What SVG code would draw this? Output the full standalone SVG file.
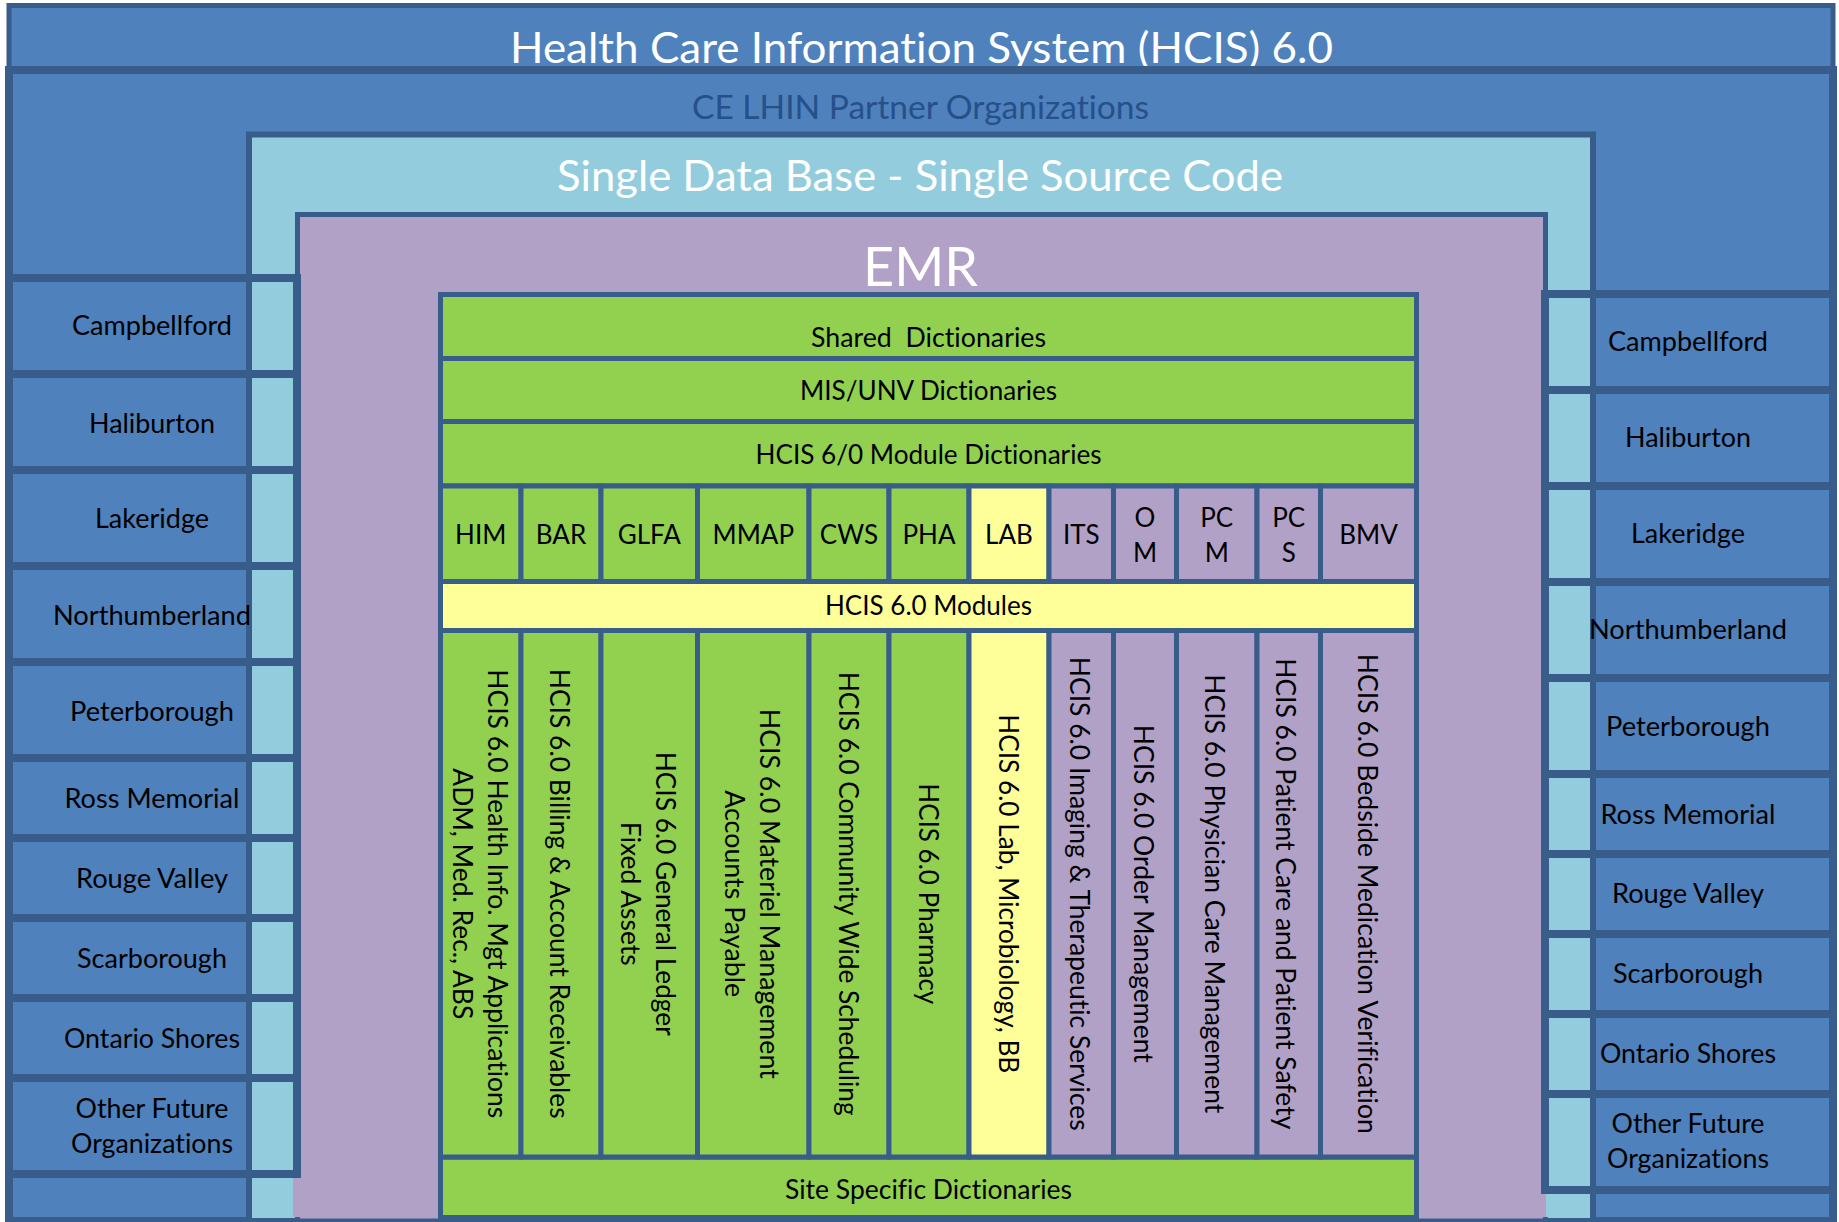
<svg xmlns="http://www.w3.org/2000/svg" width="1839" height="1222" viewBox="0 0 1839 1222">
<style>
.bd{stroke:#385D8A;stroke-width:5}
.bd6{stroke:#385D8A;stroke-width:6}
.bd8{stroke:#385D8A;stroke-width:8}
.blue{fill:#4F81BD}
.lb{fill:#93CDDD}
.pu{fill:#B2A1C7}
.gr{fill:#92D050}
.ye{fill:#FFFF99}
.nf{fill:none}
text{font-family:Lato,"Noto Sans","Liberation Sans",sans-serif;font-variant-ligatures:none;font-feature-settings:"liga" 0,"dlig" 0}
.t{font-size:26px;fill:#000;text-anchor:middle}
.w{fill:#fff;text-anchor:middle}
</style>
<rect x="0" y="0" width="1839" height="1222" fill="#fff"/>

<g id="title-box">
<rect x="9" y="5.5" width="1824" height="70" class="blue bd"/>
<text x="921.5" y="63" class="w" font-size="43" textLength="823" lengthAdjust="spacingAndGlyphs">Health Care Information System (HCIS) 6.0</text>
</g>

<g id="ce-lhin">
<rect x="9" y="70" width="1824" height="1151" class="blue bd8"/>
<text x="920.5" y="119" font-size="33" fill="#26508A" text-anchor="middle" textLength="457" lengthAdjust="spacingAndGlyphs">CE LHIN Partner Organizations</text>
</g>

<g id="single-db">
<rect x="249" y="134.5" width="1344" height="1086.5" class="lb bd6"/>
<text x="920" y="191" class="w" font-size="43" textLength="726" lengthAdjust="spacingAndGlyphs">Single Data Base - Single Source Code</text>
</g>

<g id="emr">
<rect x="297.5" y="214.5" width="1248" height="1006.5" class="pu bd"/>
<text x="920.5" y="286" class="w" font-size="55" textLength="115" lengthAdjust="spacingAndGlyphs">EMR</text>
</g>

<g id="hcis-core">
<rect x="440.5" y="294.5" width="976" height="923" class="gr bd"/>
</g>

<g id="shared-dictionaries">
<rect x="440.5" y="294.5" width="976" height="64" class="gr bd"/>
<text x="928.5" y="347" class="t" xml:space="preserve" textLength="235" lengthAdjust="spacingAndGlyphs">Shared  Dictionaries</text>
</g>
<g id="mis-unv-dictionaries">
<rect x="440.5" y="358.5" width="976" height="63" class="gr bd"/>
<text x="928.5" y="400" class="t" textLength="257" lengthAdjust="spacingAndGlyphs">MIS/UNV Dictionaries</text>
</g>
<g id="module-dictionaries">
<rect x="440.5" y="421.5" width="976" height="64.5" class="gr bd"/>
<text x="928.5" y="464" class="t" textLength="346" lengthAdjust="spacingAndGlyphs">HCIS 6/0 Module Dictionaries</text>
</g>
<g id="hcis-modules">
<rect x="440.5" y="581.5" width="976" height="49" class="ye bd"/>
<text x="928.5" y="615" class="t" textLength="207" lengthAdjust="spacingAndGlyphs">HCIS 6.0 Modules</text>
</g>
<g id="site-specific-dictionaries">
<rect x="440.5" y="1157" width="976" height="60.5" class="gr bd"/>
<text x="928.5" y="1199" class="t" textLength="287" lengthAdjust="spacingAndGlyphs">Site Specific Dictionaries</text>
</g>

<g id="mod-him">
<rect x="440.5" y="486" width="80.5" height="95.5" class="gr bd"/>
<rect x="440.5" y="630.5" width="80.5" height="526.5" class="gr bd"/>
<text x="480.75" y="544" class="t">HIM</text>
<text class="t" transform="translate(488,893.75) rotate(90)" textLength="449" lengthAdjust="spacingAndGlyphs">HCIS 6.0 Health Info. Mgt Applications</text>
<text class="t" transform="translate(453,893.75) rotate(90)" textLength="251" lengthAdjust="spacingAndGlyphs">ADM, Med. Rec., ABS</text>
</g>
<g id="mod-bar">
<rect x="521" y="486" width="80" height="95.5" class="gr bd"/>
<rect x="521" y="630.5" width="80" height="526.5" class="gr bd"/>
<text x="561" y="544" class="t">BAR</text>
<text class="t" transform="translate(550,893.75) rotate(90)" textLength="450" lengthAdjust="spacingAndGlyphs">HCIS 6.0 Billing &amp; Account Receivables</text>
</g>
<g id="mod-glfa">
<rect x="601" y="486" width="96.5" height="95.5" class="gr bd"/>
<rect x="601" y="630.5" width="96.5" height="526.5" class="gr bd"/>
<text x="649.25" y="544" class="t">GLFA</text>
<text class="t" transform="translate(656,893.75) rotate(90)" textLength="284" lengthAdjust="spacingAndGlyphs">HCIS 6.0 General Ledger</text>
<text class="t" transform="translate(621,893.75) rotate(90)" textLength="144" lengthAdjust="spacingAndGlyphs">Fixed Assets</text>
</g>
<g id="mod-mmap">
<rect x="697.5" y="486" width="111.5" height="95.5" class="gr bd"/>
<rect x="697.5" y="630.5" width="111.5" height="526.5" class="gr bd"/>
<text x="753.25" y="544" class="t">MMAP</text>
<text class="t" transform="translate(760,893.75) rotate(90)" textLength="370" lengthAdjust="spacingAndGlyphs">HCIS 6.0 Materiel Management</text>
<text class="t" transform="translate(725,893.75) rotate(90)" textLength="207" lengthAdjust="spacingAndGlyphs">Accounts Payable</text>
</g>
<g id="mod-cws">
<rect x="809" y="486" width="80" height="95.5" class="gr bd"/>
<rect x="809" y="630.5" width="80" height="526.5" class="gr bd"/>
<text x="849" y="544" class="t">CWS</text>
<text class="t" transform="translate(839,893.75) rotate(90)" textLength="444" lengthAdjust="spacingAndGlyphs">HCIS 6.0 Community Wide Scheduling</text>
</g>
<g id="mod-pha">
<rect x="889" y="486" width="80" height="95.5" class="gr bd"/>
<rect x="889" y="630.5" width="80" height="526.5" class="gr bd"/>
<text x="929" y="544" class="t">PHA</text>
<text class="t" transform="translate(919,893.75) rotate(90)" textLength="221" lengthAdjust="spacingAndGlyphs">HCIS 6.0 Pharmacy</text>
</g>
<g id="mod-lab">
<rect x="969" y="486" width="80" height="95.5" class="ye bd"/>
<rect x="969" y="630.5" width="80" height="526.5" class="ye bd"/>
<text x="1009" y="544" class="t">LAB</text>
<text class="t" transform="translate(999,893.75) rotate(90)" textLength="359" lengthAdjust="spacingAndGlyphs">HCIS 6.0 Lab, Microbiology, BB</text>
</g>
<g id="mod-its">
<rect x="1049" y="486" width="64.5" height="95.5" class="pu bd"/>
<rect x="1049" y="630.5" width="64.5" height="526.5" class="pu bd"/>
<text x="1081.25" y="544" class="t">ITS</text>
<text class="t" transform="translate(1070,893.75) rotate(90)" textLength="474" lengthAdjust="spacingAndGlyphs">HCIS 6.0 Imaging &amp; Therapeutic Services</text>
</g>
<g id="mod-om">
<rect x="1113.5" y="486" width="63" height="95.5" class="pu bd"/>
<rect x="1113.5" y="630.5" width="63" height="526.5" class="pu bd"/>
<text x="1145" y="527" class="t">O</text>
<text x="1145" y="562" class="t">M</text>
<text class="t" transform="translate(1134,893.75) rotate(90)" textLength="338" lengthAdjust="spacingAndGlyphs">HCIS 6.0 Order Management</text>
</g>
<g id="mod-pcm">
<rect x="1176.5" y="486" width="80.5" height="95.5" class="pu bd"/>
<rect x="1176.5" y="630.5" width="80.5" height="526.5" class="pu bd"/>
<text x="1216.75" y="527" class="t">PC</text>
<text x="1216.75" y="562" class="t">M</text>
<text class="t" transform="translate(1205,893.75) rotate(90)" textLength="439" lengthAdjust="spacingAndGlyphs">HCIS 6.0 Physician Care Management</text>
</g>
<g id="mod-pcs">
<rect x="1257" y="486" width="63.5" height="95.5" class="pu bd"/>
<rect x="1257" y="630.5" width="63.5" height="526.5" class="pu bd"/>
<text x="1288.75" y="527" class="t">PC</text>
<text x="1288.75" y="562" class="t">S</text>
<text class="t" transform="translate(1276,893.75) rotate(90)" textLength="471" lengthAdjust="spacingAndGlyphs">HCIS 6.0 Patient Care and Patient Safety</text>
</g>
<g id="mod-bmv">
<rect x="1320.5" y="486" width="96" height="95.5" class="pu bd"/>
<rect x="1320.5" y="630.5" width="96" height="526.5" class="pu bd"/>
<text x="1368.5" y="544" class="t">BMV</text>
<text class="t" transform="translate(1358,893.75) rotate(90)" textLength="480" lengthAdjust="spacingAndGlyphs">HCIS 6.0 Bedside Medication Verification</text>
</g>

<!-- Left organizations -->
<g id="left-campbellford">
<rect x="9" y="278" width="288" height="96" class="blue bd8"/><rect x="252" y="282" width="41" height="88" class="lb"/><line x1="249" y1="282" x2="249" y2="370" class="bd6"/>
<text x="152" y="335" class="t" textLength="160" lengthAdjust="spacingAndGlyphs">Campbellford</text>
</g>
<g id="left-haliburton">
<rect x="9" y="374" width="288" height="96" class="blue bd8"/><rect x="252" y="378" width="41" height="88" class="lb"/><line x1="249" y1="378" x2="249" y2="466" class="bd6"/>
<text x="152" y="433" class="t" textLength="126" lengthAdjust="spacingAndGlyphs">Haliburton</text>
</g>
<g id="left-lakeridge">
<rect x="9" y="470" width="288" height="96" class="blue bd8"/><rect x="252" y="474" width="41" height="88" class="lb"/><line x1="249" y1="474" x2="249" y2="562" class="bd6"/>
<text x="152" y="528" class="t" textLength="114" lengthAdjust="spacingAndGlyphs">Lakeridge</text>
</g>
<g id="left-northumberland">
<rect x="9" y="566" width="288" height="96" class="blue bd8"/><rect x="252" y="570" width="41" height="88" class="lb"/><line x1="249" y1="570" x2="249" y2="658" class="bd6"/>
<text x="152" y="625" class="t" textLength="198" lengthAdjust="spacingAndGlyphs">Northumberland</text>
</g>
<g id="left-peterborough">
<rect x="9" y="662" width="288" height="96" class="blue bd8"/><rect x="252" y="666" width="41" height="88" class="lb"/><line x1="249" y1="666" x2="249" y2="754" class="bd6"/>
<text x="152" y="721" class="t" textLength="164" lengthAdjust="spacingAndGlyphs">Peterborough</text>
</g>
<g id="left-ross-memorial">
<rect x="9" y="758" width="288" height="80" class="blue bd8"/><rect x="252" y="762" width="41" height="72" class="lb"/><line x1="249" y1="762" x2="249" y2="834" class="bd6"/>
<text x="152" y="808" class="t" textLength="175" lengthAdjust="spacingAndGlyphs">Ross Memorial</text>
</g>
<g id="left-rouge-valley">
<rect x="9" y="838" width="288" height="80" class="blue bd8"/><rect x="252" y="842" width="41" height="72" class="lb"/><line x1="249" y1="842" x2="249" y2="914" class="bd6"/>
<text x="152" y="888" class="t" textLength="152" lengthAdjust="spacingAndGlyphs">Rouge Valley</text>
</g>
<g id="left-scarborough">
<rect x="9" y="918" width="288" height="80" class="blue bd8"/><rect x="252" y="922" width="41" height="72" class="lb"/><line x1="249" y1="922" x2="249" y2="994" class="bd6"/>
<text x="152" y="968" class="t" textLength="150" lengthAdjust="spacingAndGlyphs">Scarborough</text>
</g>
<g id="left-ontario-shores">
<rect x="9" y="998" width="288" height="80" class="blue bd8"/><rect x="252" y="1002" width="41" height="72" class="lb"/><line x1="249" y1="1002" x2="249" y2="1074" class="bd6"/>
<text x="152" y="1048" class="t" textLength="176" lengthAdjust="spacingAndGlyphs">Ontario Shores</text>
</g>
<g id="left-other-future">
<rect x="9" y="1078" width="288" height="96" class="blue bd8"/><rect x="252" y="1082" width="41" height="88" class="lb"/><line x1="249" y1="1082" x2="249" y2="1170" class="bd6"/>
<text x="152" y="1118" class="t" textLength="153" lengthAdjust="spacingAndGlyphs">Other Future</text>
<text x="152" y="1153" class="t" textLength="162" lengthAdjust="spacingAndGlyphs">Organizations</text>
</g>
<rect x="293" y="1178" width="8" height="39" class="pu"/>

<!-- Right organizations -->
<g id="right-campbellford">
<rect x="1545" y="294" width="288" height="96" class="blue bd8"/><rect x="1549" y="298" width="41" height="88" class="lb"/><line x1="1593" y1="298" x2="1593" y2="386" class="bd6"/>
<text x="1688" y="351" class="t" textLength="160" lengthAdjust="spacingAndGlyphs">Campbellford</text>
</g>
<g id="right-haliburton">
<rect x="1545" y="390" width="288" height="96" class="blue bd8"/><rect x="1549" y="394" width="41" height="88" class="lb"/><line x1="1593" y1="394" x2="1593" y2="482" class="bd6"/>
<text x="1688" y="447" class="t" textLength="126" lengthAdjust="spacingAndGlyphs">Haliburton</text>
</g>
<g id="right-lakeridge">
<rect x="1545" y="486" width="288" height="96" class="blue bd8"/><rect x="1549" y="490" width="41" height="88" class="lb"/><line x1="1593" y1="490" x2="1593" y2="578" class="bd6"/>
<text x="1688" y="543" class="t" textLength="114" lengthAdjust="spacingAndGlyphs">Lakeridge</text>
</g>
<g id="right-northumberland">
<rect x="1545" y="582" width="288" height="96" class="blue bd8"/><rect x="1549" y="586" width="41" height="88" class="lb"/><line x1="1593" y1="586" x2="1593" y2="674" class="bd6"/>
<text x="1688" y="639" class="t" textLength="198" lengthAdjust="spacingAndGlyphs">Northumberland</text>
</g>
<g id="right-peterborough">
<rect x="1545" y="678" width="288" height="96" class="blue bd8"/><rect x="1549" y="682" width="41" height="88" class="lb"/><line x1="1593" y1="682" x2="1593" y2="770" class="bd6"/>
<text x="1688" y="736" class="t" textLength="164" lengthAdjust="spacingAndGlyphs">Peterborough</text>
</g>
<g id="right-ross-memorial">
<rect x="1545" y="774" width="288" height="80" class="blue bd8"/><rect x="1549" y="778" width="41" height="72" class="lb"/><line x1="1593" y1="778" x2="1593" y2="850" class="bd6"/>
<text x="1688" y="824" class="t" textLength="175" lengthAdjust="spacingAndGlyphs">Ross Memorial</text>
</g>
<g id="right-rouge-valley">
<rect x="1545" y="854" width="288" height="80" class="blue bd8"/><rect x="1549" y="858" width="41" height="72" class="lb"/><line x1="1593" y1="858" x2="1593" y2="930" class="bd6"/>
<text x="1688" y="903" class="t" textLength="152" lengthAdjust="spacingAndGlyphs">Rouge Valley</text>
</g>
<g id="right-scarborough">
<rect x="1545" y="934" width="288" height="80" class="blue bd8"/><rect x="1549" y="938" width="41" height="72" class="lb"/><line x1="1593" y1="938" x2="1593" y2="1010" class="bd6"/>
<text x="1688" y="983" class="t" textLength="150" lengthAdjust="spacingAndGlyphs">Scarborough</text>
</g>
<g id="right-ontario-shores">
<rect x="1545" y="1014" width="288" height="80" class="blue bd8"/><rect x="1549" y="1018" width="41" height="72" class="lb"/><line x1="1593" y1="1018" x2="1593" y2="1090" class="bd6"/>
<text x="1688" y="1063" class="t" textLength="176" lengthAdjust="spacingAndGlyphs">Ontario Shores</text>
</g>
<g id="right-other-future">
<rect x="1545" y="1094" width="288" height="96" class="blue bd8"/><rect x="1549" y="1098" width="41" height="88" class="lb"/><line x1="1593" y1="1098" x2="1593" y2="1186" class="bd6"/>
<text x="1688" y="1133" class="t" textLength="153" lengthAdjust="spacingAndGlyphs">Other Future</text>
<text x="1688" y="1168" class="t" textLength="162" lengthAdjust="spacingAndGlyphs">Organizations</text>
</g>
<rect x="1541" y="1194" width="5" height="23" class="pu"/>
<rect x="1546" y="1194" width="3" height="23" class="lb"/>

<g id="connectors"/>
</svg>
